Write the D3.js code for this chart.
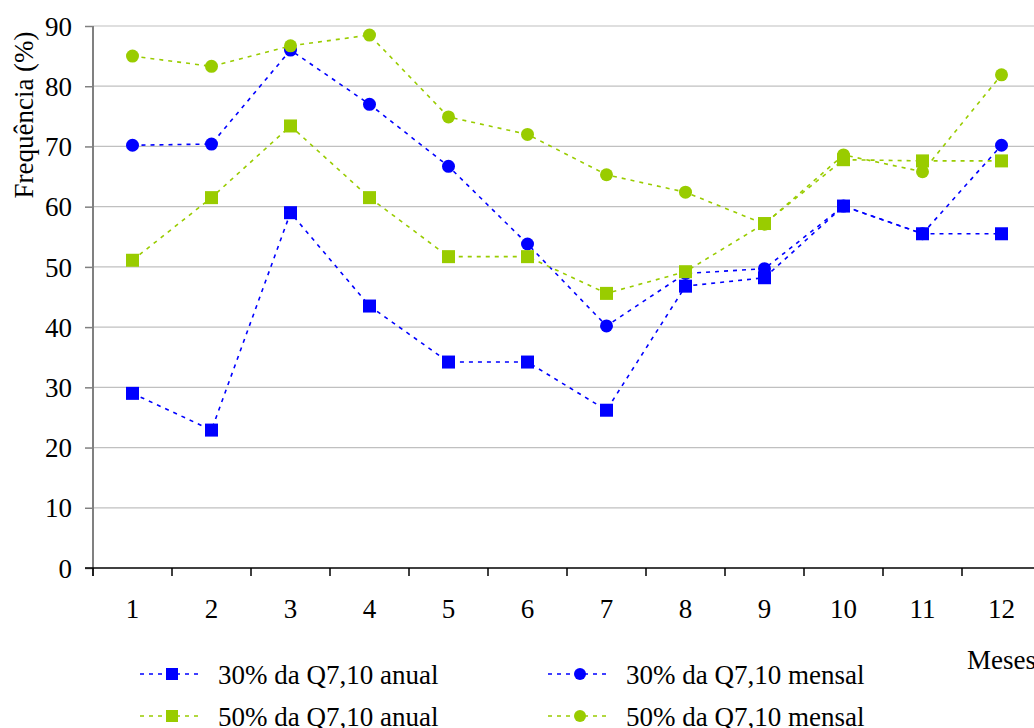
<!DOCTYPE html>
<html><head><meta charset="utf-8">
<script src="https://cdn.jsdelivr.net/npm/d3@7"></script>
<style>body{margin:0;background:#fff}svg{display:block}text{font-family:"Liberation Serif","Times New Roman",serif;fill:#000}</style>
</head><body>
<svg id="c" width="1034" height="728"></svg>
<script>
const months = [1,2,3,4,5,6,7,8,9,10,11,12];
const yTicks = [0,10,20,30,40,50,60,70,80,90];
const anual30 = [29.0,22.9,59.0,43.5,34.2,34.2,26.2,46.8,48.2,60.1,55.5,55.5];
const mensal30 = [70.2,70.4,86.0,77.0,66.7,53.8,40.2,48.9,49.7,60.1,55.5,70.2];
const anual50 = [51.1,61.5,73.4,61.5,51.7,51.7,45.6,49.2,57.2,67.8,67.6,67.6];
const mensal50 = [85.0,83.3,86.7,88.5,74.9,72.0,65.3,62.4,57.1,68.6,65.8,81.9];
const seriesNames = ["30% da Q7,10 anual","30% da Q7,10 mensal","50% da Q7,10 anual","50% da Q7,10 mensal"];

(function () {
const BLUE = "#0000ff", GREEN = "#99cc00";
const series = [
  {name: seriesNames[1], values: mensal30, color: BLUE, shape: "circle", leg: [548, 684]},
  {name: seriesNames[0], values: anual30, color: BLUE, shape: "square", leg: [140, 684]},
  {name: seriesNames[3], values: mensal50, color: GREEN, shape: "circle", leg: [548, 726]},
  {name: seriesNames[2], values: anual50, color: GREEN, shape: "square", leg: [140, 726]}
];

const svg = d3.select("#c");
const mLeft = 93, mTop = 26, mBottom = 568, bw = 79;
const x = d3.scaleBand().domain(months).range([mLeft, mLeft + bw * months.length]).padding(0);
const y = d3.scaleLinear().domain([0, 90]).range([mBottom, mTop]);

// gridlines
svg.append("g").selectAll("line").data(yTicks.filter(d => d > 0)).join("line")
  .attr("x1", mLeft).attr("x2", 1034).attr("y1", d => y(d)).attr("y2", d => y(d))
  .attr("stroke", "#c0c0c0").attr("stroke-width", 1.2);

// y axis
const yAxis = svg.append("g").attr("transform", `translate(${mLeft},0)`)
  .call(d3.axisLeft(y).tickValues(yTicks).tickSize(8).tickPadding(13));
yAxis.select(".domain").attr("stroke", "#808080").attr("stroke-width", 2)
  .attr("d", `M0,${mTop}V${mBottom + 8}`);
yAxis.selectAll(".tick line").attr("stroke", "#808080").attr("stroke-width", 1.5);
yAxis.selectAll(".tick text").attr("font-size", 27).attr("font-family", "Liberation Serif").attr("dy", "0.34em");

// x axis
const xAxis = svg.append("g").attr("transform", `translate(0,${mBottom})`)
  .call(d3.axisBottom(x).tickSize(0).tickPadding(0));
xAxis.select(".domain").attr("stroke", "#000").attr("stroke-width", 1.5)
  .attr("d", `M${mLeft - 8},0H1034`);
xAxis.selectAll(".tick text").attr("font-size", 27).attr("font-family", "Liberation Serif")
  .attr("y", 50).attr("dy", 0);
svg.append("g").selectAll("line").data(months.concat([13])).join("line")
  .attr("x1", (d, i) => mLeft + i * bw).attr("x2", (d, i) => mLeft + i * bw)
  .attr("y1", mBottom).attr("y2", mBottom + 8).attr("stroke", "#000").attr("stroke-width", 1.5);

// axis titles
svg.append("text").attr("transform", "translate(33,115) rotate(-90)")
  .attr("text-anchor", "middle").attr("font-size", 27).text("Frequência (%)");
svg.append("text").attr("x", 967).attr("y", 669).attr("font-size", 27).text("Meses");

const cx = d => x(d) + x.bandwidth() / 2;
const line = d3.line().x((d, i) => cx(months[i])).y(d => y(d));

function marker(g, shape, color, px, py, size) {
  if (shape === "square") {
    g.append("rect").attr("x", px - size / 2).attr("y", py - size / 2)
      .attr("width", size).attr("height", size).attr("fill", color);
  } else {
    g.append("circle").attr("cx", px).attr("cy", py).attr("r", size / 2).attr("fill", color);
  }
}

series.forEach(s => {
  const g = svg.append("g");
  g.append("path").attr("d", line(s.values)).attr("fill", "none")
    .attr("stroke", s.color).attr("stroke-width", 1.6).attr("stroke-dasharray", "4,5");
  s.values.forEach((v, i) => marker(g, s.shape, s.color, cx(months[i]), y(v), 13));
});

// legend
series.forEach(s => {
  const g = svg.append("g");
  const [lx, by] = s.leg;
  const my = by - 10;
  g.append("line").attr("x1", lx).attr("x2", lx + 63).attr("y1", my).attr("y2", my)
    .attr("stroke", s.color).attr("stroke-width", 1.6).attr("stroke-dasharray", "4,5");
  marker(g, s.shape, s.color, lx + 32, my, 12);
  g.append("text").attr("x", lx + 78).attr("y", by).attr("font-size", 27).text(s.name);
});
})();
</script>
</body></html>
